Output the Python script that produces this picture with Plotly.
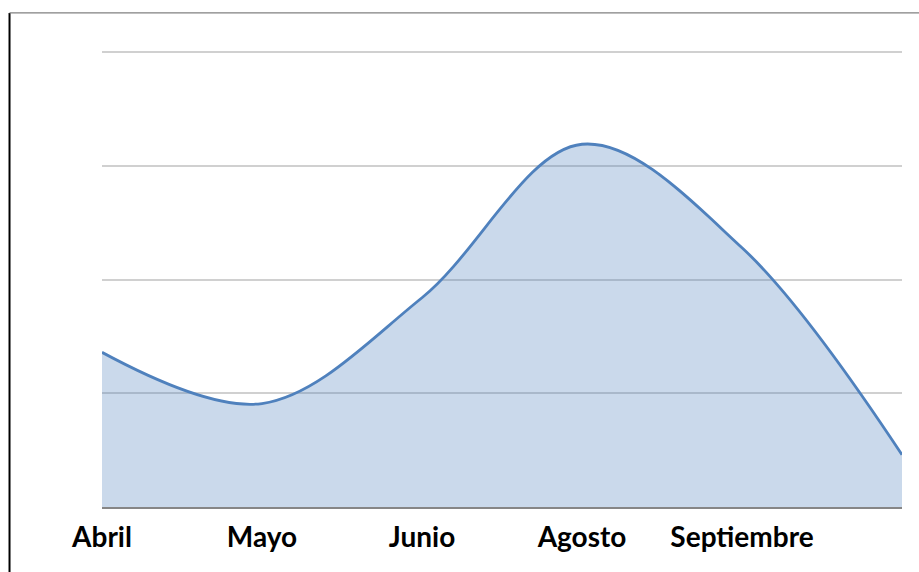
import plotly.graph_objects as go

# Monthly series
months = ["Abril", "Mayo", "Junio", "Agosto", "Septiembre", ""]
values = [13.6, 9.1, 18.4, 31.9, 22.8, 4.6]
x_pos = list(range(len(months)))

LINE_BLUE = "#4f81bd"
FILL_BLUE = "rgba(79,129,189,0.30)"

fig = go.Figure()
fig.add_trace(go.Scatter(
    x=x_pos,
    y=values,
    mode="lines",
    line=dict(color=LINE_BLUE, width=2.8, shape="spline", smoothing=1.0),
    fill="tozeroy",
    fillcolor=FILL_BLUE,
    hoverinfo="skip",
    showlegend=False,
))

fig.update_layout(
    width=919,
    height=572,
    margin=dict(l=102, r=17, t=51, b=65),
    paper_bgcolor="white",
    plot_bgcolor="white",
    font=dict(family="Lato, Calibri, sans-serif", color="black"),
    xaxis=dict(
        range=[0, len(months) - 1],
        tickmode="array",
        tickvals=x_pos,
        ticktext=months,
        tickfont=dict(size=28, family="Lato", weight="bold", color="black"),
        showgrid=False,
        zeroline=False,
        showline=True,
        linecolor="#868686",
        linewidth=1.5,
        ticks="outside",
        ticklen=5,
        tickcolor="rgba(0,0,0,0)",
        fixedrange=True,
    ),
    yaxis=dict(
        range=[0, 40.1],
        dtick=10,
        showticklabels=False,
        showgrid=True,
        gridcolor="#d0d0d0",
        gridwidth=1.5,
        zeroline=False,
        showline=False,
        fixedrange=True,
    ),
    shapes=[
        # left frame edge
        dict(type="line", xref="paper", yref="paper",
             x0=-0.1156, x1=-0.1156, y0=1.0835, y1=-0.15,
             line=dict(color="black", width=2)),
        # top frame edge
        dict(type="line", xref="paper", yref="paper",
             x0=-0.1156, x1=1.03, y0=1.0835, y1=1.0835,
             line=dict(color="#808080", width=1.3)),
    ],
)

fig.write_html("out.html")
